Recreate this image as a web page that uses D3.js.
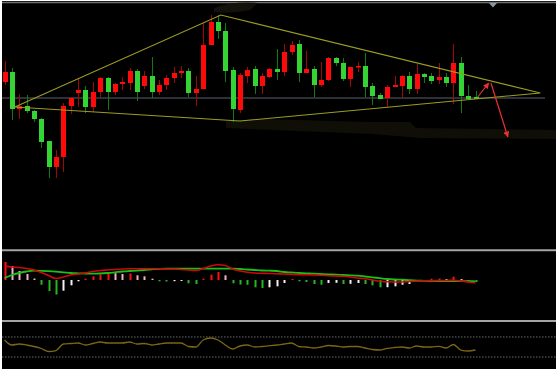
<!DOCTYPE html>
<html>
<head>
<meta charset="utf-8">
<script src="https://cdn.jsdelivr.net/npm/d3@7"></script>
<style>
  body { margin: 0; background: #fff; }
  svg { display: block; }
</style>
</head>
<body>
<svg id="chart"></svg>
<script>
// daily candles, price units (red = up, green = down)
const opens  = [218,228,191,194,189,181,159,133,143,194,207,210,193,208,222,208,216,217,229,214,224,208,215,222,227,229,207,211,255,278,269,230,190,224,231,214,223,231,228,248,256,227,231,215,220,242,237,221,233,234,214,205,202,213,214,224,211,226,224,220,223,217,237,204,203];
const highs  = [239,232,206,205,190,182,159,150,197,203,222,214,218,223,223,217,223,232,231,229,243,220,225,233,234,232,224,277,285,285,277,233,227,233,234,227,232,251,256,259,260,249,234,238,243,243,242,233,238,247,217,207,215,224,225,228,236,227,227,237,227,256,243,215,209];
const lows   = [215,180,181,187,178,152,122,122,128,186,193,187,188,203,190,205,210,210,199,211,202,205,210,217,222,203,194,211,255,261,218,178,187,217,206,206,222,220,224,245,218,227,203,213,219,234,219,213,228,203,195,201,193,213,202,206,206,217,216,216,213,196,187,201,201];
const closes = [228,191,194,189,181,158,133,143,194,202,210,193,208,222,208,216,218,229,208,224,208,215,222,227,229,207,211,255,278,269,229,191,225,230,214,224,231,228,248,255,227,231,215,220,242,237,221,233,234,213,204,201,213,215,224,211,226,223,219,223,217,237,204,201,201];

// MACD panel
const dif = [0.14,0.13,0.125,0.115,0.10,0.075,0.045,0.015,0.03,0.05,0.06,0.07,0.085,0.095,0.10,0.105,0.11,0.113,0.113,0.113,0.113,0.113,0.11,0.11,0.105,0.10,0.095,0.115,0.14,0.153,0.145,0.11,0.09,0.078,0.07,0.067,0.065,0.063,0.06,0.057,0.054,0.052,0.05,0.047,0.043,0.04,0.037,0.03,0.02,0.013,0.0,-0.013,-0.017,-0.02,-0.02,-0.015,-0.01,-0.007,-0.007,-0.005,-0.005,-0.003,-0.01,-0.02,-0.03];
const dea = [0.02,0.05,0.07,0.085,0.093,0.092,0.088,0.083,0.077,0.07,0.067,0.065,0.063,0.065,0.07,0.077,0.085,0.09,0.094,0.10,0.107,0.112,0.113,0.113,0.113,0.113,0.113,0.113,0.113,0.113,0.113,0.113,0.11,0.105,0.10,0.095,0.093,0.09,0.08,0.075,0.07,0.067,0.063,0.06,0.057,0.053,0.05,0.047,0.043,0.035,0.027,0.018,0.01,0.005,0.003,-0.002,-0.006,-0.008,-0.01,-0.01,-0.01,-0.01,-0.011,-0.012,-0.013];
const macdHist = [0.18,0.14,0.09,0.06,0.015,-0.047,-0.11,-0.145,-0.107,-0.053,-0.013,0.013,0.037,0.053,0.07,0.068,0.06,0.065,0.047,0.037,0.013,-0.013,-0.015,-0.012,-0.01,-0.033,-0.04,0.013,0.053,0.08,0.047,-0.033,-0.045,-0.048,-0.073,-0.08,-0.073,-0.063,-0.03,0.01,-0.013,-0.02,-0.04,-0.047,-0.03,-0.028,-0.04,-0.038,-0.03,-0.04,-0.053,-0.073,-0.072,-0.063,-0.047,-0.04,-0.013,-0.01,0.013,0.015,0.01,0.033,0.01,-0.013,-0.02];

// oscillator panel
const osc = [71,56,59,56,51.5,45.5,36.5,39.5,59,60.5,62,56,60.5,65,62,62,62,65,59,60.5,56,59,62,62,62,51.5,50,71,77,71,56,44,53,56,50,51.5,54,56,59,62,51.5,50,47,50,54.5,53,50,51.5,51.5,47,42.5,41,46,48.5,50,47,53,50,50,52,47,57.5,41,38,41];
const oscLevels = [80, 20];

// drawn annotations: [candle index, price]
const baseLevel = 202;
const patternPts = [[1.4,193],[29.4,285],[72.8,207],[32,179],[1.4,193]];
const arrowUp = [[64.3,203],[65.8,217]];
const arrowDown = [[66.1,217],[68.4,163]];

class KChart {
    constructor(_config) {
        this.config = {
            parentElement: _config.parentElement,
            containerWidth: _config.containerWidth || 558,
            containerHeight: _config.containerHeight || 372
        }
        this.initVis();
    }

    initVis() {
        let vis = this;

        vis.svg = d3.select(vis.config.parentElement)
            .attr('width', vis.config.containerWidth)
            .attr('height', vis.config.containerHeight);

        // black plotting area
        vis.svg.append('rect')
            .attr('x', 2).attr('y', 1)
            .attr('width', 554).attr('height', 368)
            .attr('fill', '#000');

        vis.xScale = d3.scaleLinear().domain([0, opens.length - 1]).range([4.5, 475.5]);
        vis.yScale = d3.scaleLinear().domain([51, 297]).range([249, 3]);
        vis.macdScale = d3.scaleLinear().domain([-0.3, 0.3]).range([310, 250]);
        vis.oscScale = d3.scaleLinear().domain([0, 100]).range([363.7, 330.3]);

        vis.renderVis();
    }

    renderVis() {
        let vis = this;
        const x = vis.xScale, y = vis.yScale;
        const idx = d3.range(opens.length);
        const bw = 5;

        // top border + panel separators
        vis.svg.append('line')
            .attr('x1', 2).attr('x2', 556).attr('y1', 2.5).attr('y2', 2.5)
            .attr('stroke', '#707070').attr('stroke-width', 1.5);
        [250.3, 321].forEach(yy => {
            vis.svg.append('line')
                .attr('x1', 2).attr('x2', 556).attr('y1', yy).attr('y2', yy)
                .attr('stroke', '#a4a4a4').attr('stroke-width', 2);
        });
        vis.svg.append('path')
            .attr('d', 'M489,3 L497,3 L493,7.5 Z')
            .attr('fill', '#8a96a6');

        // faint smudge left over in the picture
        vis.svg.append('path')
            .attr('d', 'M226,121 L260,119 L372,122 L410,122 L416,128 L556,130 L556,139 L420,138 L372,134 L250,129 L226,128 Z')
            .attr('fill', '#0f0f07');
        vis.svg.append('path')
            .attr('d', 'M214,8 Q232,1 258,3 L250,10 Q230,14 214,12 Z')
            .attr('fill', '#12120a');

        // base horizontal
        vis.svg.append('line')
            .attr('x1', 2).attr('x2', 545)
            .attr('y1', y(baseLevel)).attr('y2', y(baseLevel))
            .attr('stroke', '#3c4048').attr('stroke-width', 1.6);

        // candles
        const candles = vis.svg.append('g').selectAll('g')
            .data(idx).join('g');
        candles.append('line')
            .attr('x1', i => Math.round(x(i)) + 0.5).attr('x2', i => Math.round(x(i)) + 0.5)
            .attr('y1', i => y(highs[i])).attr('y2', i => y(lows[i]))
            .attr('stroke', i => closes[i] >= opens[i] ? '#a00808' : '#0f7a0f')
            .attr('stroke-width', 1);
        candles.append('rect')
            .attr('x', i => Math.round(x(i)) + 0.5 - bw / 2)
            .attr('width', bw)
            .attr('y', i => y(Math.max(opens[i], closes[i])))
            .attr('height', i => Math.max(1.5, Math.abs(y(opens[i]) - y(closes[i]))))
            .attr('fill', i => closes[i] >= opens[i] ? '#ff0a0a' : '#33d433');

        // triangle pattern
        const pline = d3.line().x(d => x(d[0])).y(d => y(d[1]));
        vis.svg.append('path')
            .attr('d', pline(patternPts))
            .attr('fill', 'none')
            .attr('stroke', '#9c9c22').attr('stroke-width', 1.1);

        // red arrows
        const defs = vis.svg.append('defs');
        defs.append('marker')
            .attr('id', 'arrowhead')
            .attr('viewBox', '0 0 10 10')
            .attr('refX', 9).attr('refY', 5)
            .attr('markerWidth', 5).attr('markerHeight', 5)
            .attr('orient', 'auto')
            .append('path').attr('d', 'M0,0 L10,5 L0,10 Z').attr('fill', '#e83030');
        [arrowUp, arrowDown].forEach(a => {
            vis.svg.append('path')
                .attr('d', pline(a))
                .attr('stroke', '#e83030').attr('stroke-width', 1.2)
                .attr('fill', 'none')
                .attr('marker-end', 'url(#arrowhead)');
        });

        // MACD histogram
        const m = vis.macdScale;
        const histColor = i => {
            const v = macdHist[i], p = i > 0 ? macdHist[i - 1] : v;
            if (v >= 0) return (i === 0 || v >= p) ? '#ff1010' : '#f2b4bc';
            return v <= p ? '#22b822' : '#f2f2f2';
        };
        vis.svg.append('g').selectAll('rect')
            .data(idx).join('rect')
            .attr('x', i => Math.round(x(i)) - 0.5)
            .attr('width', 2)
            .attr('y', i => Math.min(m(0), m(macdHist[i])))
            .attr('height', i => Math.max(1, Math.abs(m(macdHist[i]) - m(0))))
            .attr('fill', histColor);

        const mline = arr => d3.line().x(i => x(i)).y(i => m(arr[i])).curve(d3.curveMonotoneX)(idx);
        vis.svg.append('path').attr('d', mline(dea))
            .attr('fill', 'none').attr('stroke', '#19c019').attr('stroke-width', 1.8);
        vis.svg.append('path').attr('d', mline(dif))
            .attr('fill', 'none').attr('stroke', '#d00808').attr('stroke-width', 1.6);

        // oscillator
        const o = vis.oscScale;
        oscLevels.forEach(l => {
            vis.svg.append('line')
                .attr('x1', 2).attr('x2', 556).attr('y1', o(l)).attr('y2', o(l))
                .attr('stroke', '#6a6a6a').attr('stroke-width', 1)
                .attr('stroke-dasharray', '1.5,1.5');
        });
        vis.svg.append('path')
            .attr('d', d3.line().x(i => x(i)).y(i => o(osc[i])).curve(d3.curveMonotoneX)(idx))
            .attr('fill', 'none').attr('stroke', '#7a6614').attr('stroke-width', 1.3);
    }
}

new KChart({ parentElement: '#chart' });
</script>
</body>
</html>
